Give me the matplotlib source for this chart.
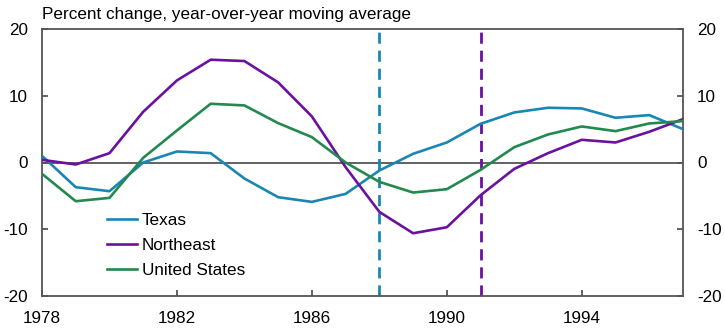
import matplotlib
matplotlib.use('Agg')
import matplotlib.pyplot as plt

plt.rcParams['font.family'] = ['Liberation Sans', 'DejaVu Sans']
plt.rcParams['axes.unicode_minus'] = False

years = list(range(1978, 1998))

# Percent change, year-over-year moving average
texas = [1.0, -3.7, -4.3, 0.0, 1.65, 1.4, -2.4, -5.2, -5.9, -4.7,
         -1.2, 1.3, 3.0, 5.8, 7.5, 8.2, 8.1, 6.7, 7.1, 5.0]
northeast = [0.4, -0.3, 1.4, 7.6, 12.3, 15.4, 15.2, 12.0, 6.9, -0.7,
             -7.4, -10.6, -9.7, -4.9, -0.95, 1.4, 3.4, 3.0, 4.6, 6.5]
united_states = [-1.7, -5.8, -5.3, 0.7, 4.8, 8.8, 8.55, 5.9, 3.8, 0.0,
                 -2.9, -4.5, -4.0, -1.1, 2.3, 4.2, 5.4, 4.7, 5.85, 6.2]

# regional downturn markers
texas_mark = 1988
northeast_mark = 1991

xticks = [1978, 1982, 1986, 1990, 1994]
yticks = [-20, -10, 0, 10, 20]

c_tx = '#1a86b4'
c_ne = '#6a119e'
c_us = '#22894f'
c_axis = '#555555'

fig = plt.figure(figsize=(7.25, 3.29), dpi=100)
ax = fig.add_axes([42/725, 33/329, 641/725, 267/329])

ax.axhline(0, color=c_axis, lw=1.3, zorder=1)
ax.axvline(texas_mark, color=c_tx, lw=2, ls=(0, (4, 2.5)), zorder=2)
ax.axvline(northeast_mark, color=c_ne, lw=2, ls=(0, (4, 2.5)), zorder=2)

ax.plot(years, texas, color=c_tx, lw=1.9, label='Texas', zorder=3)
ax.plot(years, northeast, color=c_ne, lw=1.9, label='Northeast', zorder=3)
ax.plot(years, united_states, color=c_us, lw=1.9, label='United States', zorder=3)

ax.set_xlim(1978, 1997)
ax.set_ylim(-20, 20)
ax.set_xticks(xticks)
ax.set_yticks(yticks)

for s in ax.spines.values():
    s.set_color(c_axis)
    s.set_linewidth(1.3)

ax.tick_params(axis='both', direction='in', length=4, width=1.3, color=c_axis,
               labelsize=12.3, pad=10, labelcolor='black')
ax.tick_params(axis='x', pad=11)
ax.tick_params(axis='y', right=True, labelright=True)

ax.legend(loc='center left', bbox_to_anchor=(0.101, 0.189), frameon=False,
          fontsize=12.3, handlelength=1.8, handletextpad=0.25,
          labelspacing=0.6, borderpad=0, borderaxespad=0)

fig.text(42/725, 1 - 14/329, 'Percent change, year-over-year moving average',
         fontsize=12.3, va='center', ha='left')

fig.savefig('out.png', dpi=100)
